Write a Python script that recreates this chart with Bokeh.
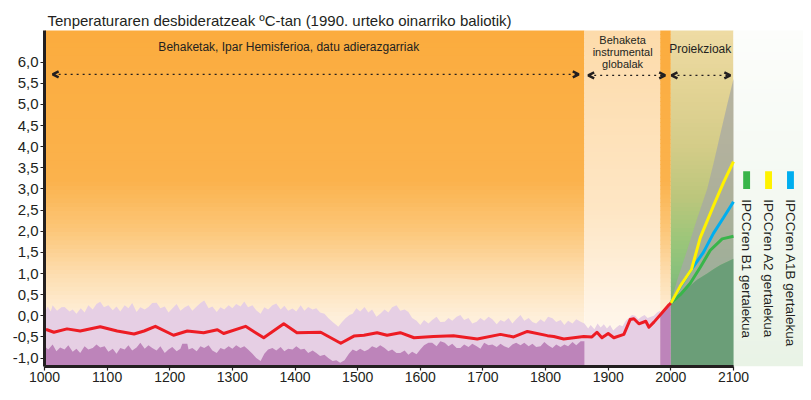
import numpy as np
from bokeh.plotting import figure
from bokeh.models import Range1d, FixedTicker, Arrow, OpenHead
from bokeh.core.properties import value
from bokeh.embed import file_html
from bokeh.resources import INLINE

FONT = "Liberation Sans"
INK = "#231F20"

# ---------------- data ----------------
title_text = "Tenperaturaren desbideratzeak ºC-tan (1990. urteko oinarriko baliotik)"

y_ticks = [-1.0, -0.5, 0.0, 0.5, 1.0, 1.5, 2.0, 2.5, 3.0, 3.5, 4.0, 4.5, 5.0, 5.5, 6.0]
y_tick_labels = ["-1,0", "-0,5", "0,0", "0,5", "1,0", "1,5", "2,0", "2,5", "3,0", "3,5",
                 "4,0", "4,5", "5,0", "5,5", "6,0"]
x_ticks = [1000, 1100, 1200, 1300, 1400, 1500, 1600, 1700, 1800, 1900, 2000, 2100]

# period boundaries
recon_start, recon_end = 1000, 1862
instr_end = 1983
proj_start, proj_end = 2000, 2100

# reconstructed + instrumental mean temperature (red line)
red_years = [1000, 1004, 1015, 1036, 1057, 1089, 1116, 1143, 1159, 1177, 1206, 1228, 1254, 1276,
             1286, 1321, 1350, 1382, 1403, 1441, 1473, 1494, 1510, 1531, 1547, 1568, 1590, 1621,
             1653, 1691, 1728, 1749, 1771, 1803, 1813, 1829, 1861,
             1874, 1882, 1890, 1900, 1909, 1925, 1935, 1941, 1949, 1960, 1965, 1973, 1986, 1997, 2000]
red_vals = [-0.33, -0.33, -0.39, -0.31, -0.36, -0.26, -0.36, -0.43, -0.36, -0.25, -0.46, -0.36, -0.40, -0.33,
            -0.42, -0.25, -0.52, -0.19, -0.40, -0.39, -0.65, -0.48, -0.46, -0.40, -0.46, -0.40, -0.52, -0.49,
            -0.47, -0.55, -0.44, -0.50, -0.37, -0.47, -0.49, -0.55, -0.49,
            -0.50, -0.39, -0.52, -0.42, -0.52, -0.44, -0.09, -0.07, -0.19, -0.13, -0.27, -0.15, 0.07, 0.26, 0.30]

# uncertainty envelope upper limit (light purple top)
upper_years = [1000, 1005, 1010, 1013, 1020, 1027, 1032, 1040, 1045, 1051, 1058, 1064, 1070, 1077, 1083,
               1089, 1095, 1102, 1109, 1115, 1121, 1128, 1134, 1140, 1147, 1153, 1160, 1166, 1172, 1179,
               1185, 1192, 1198, 1204, 1211, 1217, 1224, 1230, 1236, 1243, 1249, 1255, 1262, 1268, 1275,
               1281, 1287, 1294, 1300, 1306, 1313, 1319, 1325, 1332, 1338, 1345, 1351, 1357, 1364, 1370,
               1377, 1383, 1389, 1396, 1402, 1409, 1415, 1421, 1428, 1434, 1440, 1447, 1453, 1460, 1466,
               1469, 1475, 1481, 1487, 1492, 1498, 1504, 1511, 1517, 1523, 1530, 1536, 1543, 1549, 1555,
               1562, 1568, 1575, 1581, 1587, 1594, 1600, 1606, 1613, 1619, 1626, 1632, 1639, 1645, 1651,
               1658, 1664, 1670, 1677, 1683, 1690, 1696, 1702, 1709, 1715, 1722, 1728, 1734, 1741, 1747,
               1753, 1760, 1766, 1773, 1779, 1785, 1792, 1798, 1804, 1811, 1817, 1824, 1830, 1836, 1843,
               1849, 1856, 1862,
               1868, 1872, 1878, 1883, 1888, 1893, 1898, 1903, 1908, 1913, 1918, 1923, 1928, 1933, 1938,
               1943, 1948, 1953, 1958, 1963, 1968, 1973, 1978, 1983]
upper_vals = [0.05, 0.22, 0.10, 0.25, 0.12, 0.20, 0.21, 0.10, 0.15, 0.05, 0.18, 0.08, 0.25, 0.15, 0.28,
              0.33, 0.20, 0.25, 0.13, 0.22, 0.10, 0.25, 0.18, 0.30, 0.09, 0.20, 0.15, 0.21, 0.30, 0.31,
              0.18, 0.22, 0.08, 0.17, 0.28, 0.12, 0.20, 0.25, 0.12, 0.22, 0.30, 0.36, 0.18, 0.22, 0.09,
              0.20, 0.15, 0.25, 0.18, 0.28, 0.22, 0.34, 0.20, 0.25, 0.13, 0.05, 0.20, 0.15, 0.25, 0.29,
              0.15, 0.24, 0.12, 0.17, 0.10, 0.25, 0.12, 0.21, 0.15, 0.18, 0.08, 0.05, -0.05, -0.15, -0.22,
              -0.26, -0.15, -0.05, 0.02, 0.05, 0.18, 0.10, 0.21, 0.08, 0.15, -0.02, 0.05, 0.15, 0.08, 0.20,
              0.25, 0.12, 0.15, 0.09, -0.05, -0.12, -0.22, -0.10, -0.18, -0.10, -0.02, -0.15, -0.14, -0.05, -0.12,
              -0.02, 0.02, -0.10, -0.05, -0.18, -0.14, -0.05, -0.12, -0.02, -0.08, -0.20, -0.10, -0.14, -0.05, -0.18,
              -0.08, 0.02, -0.12, -0.05, -0.15, -0.18, -0.08, -0.15, -0.02, -0.06, -0.15, -0.10, -0.22, -0.12, -0.18,
              -0.08, -0.14, -0.18,
              -0.30, -0.22, -0.32, -0.18, -0.28, -0.20, -0.30, -0.22, -0.35, -0.28, -0.22, -0.25, -0.12, -0.05, 0.02,
              0.00, -0.08, -0.02, 0.02, -0.05, -0.02, 0.00, 0.08, 0.12]

# uncertainty envelope lower limit (dark purple top), reconstruction period
lower_years = [1000, 1006, 1013, 1019, 1025, 1032, 1038, 1045, 1051, 1057, 1064, 1070, 1077, 1083, 1089,
               1096, 1102, 1109, 1115, 1121, 1128, 1134, 1140, 1147, 1153, 1160, 1166, 1172, 1179, 1185,
               1192, 1198, 1204, 1211, 1217, 1220, 1228, 1230, 1236, 1243, 1249, 1255, 1262, 1268, 1275,
               1281, 1287, 1294, 1300, 1306, 1313, 1319, 1325, 1332, 1338, 1345, 1351, 1357, 1364, 1370,
               1377, 1383, 1389, 1396, 1402, 1409, 1415, 1421, 1428, 1434, 1440, 1447, 1453, 1460, 1466,
               1472, 1479, 1486, 1492, 1498, 1504, 1511, 1517, 1523, 1530, 1536, 1543, 1549, 1555, 1562,
               1568, 1575, 1581, 1587, 1594, 1600, 1606, 1613, 1619, 1626, 1632, 1639, 1645, 1651, 1658,
               1664, 1670, 1677, 1683, 1690, 1696, 1702, 1709, 1715, 1722, 1728, 1734, 1741, 1747, 1753,
               1760, 1766, 1773, 1779, 1785, 1792, 1798, 1804, 1811, 1817, 1824, 1830, 1836, 1843, 1849,
               1856, 1862]
lower_vals = [-0.72, -0.80, -0.68, -0.84, -0.75, -0.80, -0.70, -0.85, -0.78, -0.88, -0.72, -0.80, -0.76, -0.68, -0.75,
              -0.72, -0.85, -0.78, -0.90, -0.76, -0.80, -0.70, -0.82, -0.75, -0.64, -0.78, -0.70, -0.76, -0.82, -0.72,
              -0.88, -0.80, -0.74, -0.84, -0.78, -0.66, -0.66, -0.80, -0.76, -0.84, -0.72, -0.76, -0.70, -0.82, -0.88,
              -0.76, -0.80, -0.72, -0.78, -0.70, -0.76, -0.72, -0.80, -0.90, -1.00, -1.07, -0.90, -0.80, -0.76, -0.82,
              -0.74, -0.84, -0.78, -0.80, -0.72, -0.80, -0.78, -0.88, -0.82, -0.88, -0.95, -0.92, -1.00, -1.07, -1.05,
              -1.11, -1.05, -0.90, -0.80, -0.84, -0.78, -0.84, -0.80, -0.72, -0.76, -0.70, -0.76, -0.84, -0.80, -0.88,
              -0.88, -0.82, -0.92, -0.85, -0.91, -0.80, -0.70, -0.64, -0.64, -0.72, -0.60, -0.64, -0.72, -0.66, -0.76,
              -0.76, -0.68, -0.74, -0.66, -0.72, -0.78, -0.64, -0.70, -0.68, -0.74, -0.66, -0.72, -0.76, -0.68, -0.64,
              -0.70, -0.64, -0.72, -0.66, -0.74, -0.72, -0.62, -0.70, -0.76, -0.68, -0.74, -0.68, -0.72, -0.62, -0.70,
              -0.60, -0.60]

# recent dark strip (1983-2000)
strip_years = [1983, 1990, 1997, 2000]
strip_vals = [0.03, 0.16, 0.26, 0.30]

# projections
fan_years = [2000, 2010, 2026, 2042, 2058, 2068, 2079, 2090, 2100]
fan_upper = [0.30, 0.84, 1.55, 2.30, 3.00, 3.60, 4.30, 5.00, 5.60]
fan_lower = [0.30, 0.45, 0.65, 0.85, 1.00, 1.10, 1.20, 1.28, 1.35]

a2_years = [2000, 2015, 2033, 2047, 2068, 2084, 2100]
a2_vals = [0.30, 0.70, 1.10, 1.85, 2.60, 3.15, 3.65]
a1b_years = [2000, 2015, 2033, 2052, 2068, 2084, 2100]
a1b_vals = [0.30, 0.68, 1.10, 1.50, 1.95, 2.32, 2.70]
b1_years = [2000, 2015, 2031, 2047, 2063, 2082, 2100]
b1_vals = [0.30, 0.50, 0.77, 1.15, 1.55, 1.82, 1.88]

legend_names = ["IPCCren B1 gertalekua", "IPCCren A2 gertalekua", "IPCCren A1B gertalekua"]
legend_colors = ["#39B54A", "#FFF200", "#00AEEF"]

# ---------------- figure ----------------
Y0, Y1 = -1.2, 6.75
X0, X1 = 1000, 2211.8

p = figure(width=803, height=384, x_range=Range1d(X0, X1), y_range=Range1d(Y0, Y1),
           output_backend="svg", toolbar_location=None,
           min_border_left=44, min_border_right=0, min_border_top=30, min_border_bottom=0)
p.grid.visible = False
p.outline_line_color = None
p.background_fill_color = "white"
p.border_fill_color = "white"

p.title.text = title_text
p.title.text_font = FONT
p.title.text_font_size = "15px"
p.title.text_font_style = "normal"
p.title.text_color = INK
p.title.standoff = 3
p.title.offset = 3


def hex2rgb(h):
    h = h.lstrip("#")
    return np.array([int(h[i:i + 2], 16) for i in (0, 2, 4)], dtype=float)


def strips(x0, x1, stops, n=80):
    ys = np.linspace(Y0, Y1, n + 1)
    mids = (ys[:-1] + ys[1:]) / 2
    sv = [s[0] for s in stops]
    cols = [hex2rgb(s[1]) for s in stops]
    out = []
    for m in mids:
        c = np.array([np.interp(m, sv, [cc[k] for cc in cols]) for k in range(3)])
        out.append("#%02x%02x%02x" % tuple(int(round(v)) for v in c))
    p.quad(left=x0, right=x1, bottom=ys[:-1], top=ys[1:] + 0.015, fill_color=out, line_color=None)


orange_stops = [(-1.47, "#FEF4E6"), (0.0, "#FEEFD9"), (1.0, "#FDDDAF"), (2.0, "#FCC77A"),
                (3.2, "#FBB24C"), (6.75, "#FBAC3E")]
peach_stops = [(-1.47, "#FFF9F2"), (0.0, "#FFF5E8"), (2.5, "#FEE6C4"), (6.75, "#FDDBAB")]
proj_stops = [(-1.47, "#6A9E78"), (0.2, "#76AC79"), (1.0, "#88C07B"), (1.8, "#9CC67A"),
              (2.8, "#BCC67C"), (4.0, "#D4CC88"), (5.5, "#E4D496"), (6.75, "#EEDBA4")]
side_stops = [(-1.47, "#E8F2E5"), (2.0, "#F2F8F0"), (6.75, "#FCFDFB")]

strips(recon_start, recon_end, orange_stops)
strips(recon_end, instr_end, peach_stops)
strips(instr_end, proj_start, orange_stops)
strips(proj_start, proj_end, proj_stops)
strips(proj_end, X1, side_stops)

# purple uncertainty areas
p.varea(x=upper_years, y1=Y0, y2=upper_vals, fill_color="#E6CFE4")
p.varea(x=lower_years, y1=Y0, y2=lower_vals, fill_color="#BD84BA")
p.varea(x=strip_years, y1=Y0, y2=strip_vals, fill_color="#BD84BA")

# projection fan
p.varea(x=fan_years, y1=fan_lower, y2=fan_upper, fill_color="#A7A8A4", fill_alpha=0.75)
p.varea(x=fan_years, y1=Y0, y2=fan_lower, fill_color="#6B9E78")

# scenario lines
p.line(b1_years, b1_vals, line_color=legend_colors[0], line_width=3)
p.line(a1b_years, a1b_vals, line_color=legend_colors[2], line_width=3)
p.line(a2_years, a2_vals, line_color=legend_colors[1], line_width=3)

# temperature line
p.line(red_years, red_vals, line_color="#ED1C24", line_width=3, line_join="round")

# period labels
p.text(x=[1390, 2047], y=[6.35, 6.32],
       text=["Behaketak, Ipar Hemisferioa, datu adierazgarriak", "Proiekzioak"],
       text_font=value(FONT), text_font_size="12px", text_color=INK,
       text_align="center", text_baseline="middle")
p.text(x=[1923], y=[6.25], text=["Behaketa\ninstrumental\nglobalak"],
       text_font=value(FONT), text_font_size="11px", text_color=INK,
       text_align="center", text_baseline="middle", text_line_height=1.0)

# period arrows
arrow_spans = [(1013, 1853, 5.71), (1868, 1991, 5.69), (2001, 2095, 5.69)]
for xs, xe, yy in arrow_spans:
    p.add_layout(Arrow(start=OpenHead(size=6, line_width=2.5, line_color=INK),
                       end=OpenHead(size=6, line_width=2.5, line_color=INK),
                       x_start=xs, y_start=yy, x_end=xe, y_end=yy,
                       line_color=INK, line_width=1.3, line_dash="dotted"))

# legend (vertical)
leg_x = [2121.0, 2156.0, 2191.0]
p.quad(left=[x - 5.5 for x in leg_x], right=[x + 5.5 for x in leg_x],
       bottom=3.0, top=3.42, fill_color=legend_colors, line_color=None)
p.text(x=leg_x, y=2.76, text=legend_names, angle=-np.pi / 2,
       text_font=value(FONT), text_font_size="13.5px", text_color=INK,
       text_align="left", text_baseline="middle")

# axes
p.xaxis.ticker = FixedTicker(ticks=x_ticks)
p.xaxis.bounds = (1000, 2100)
p.yaxis.ticker = FixedTicker(ticks=y_ticks)
p.yaxis.major_label_overrides = {t: l for t, l in zip(y_ticks, y_tick_labels)}
p.yaxis.bounds = (Y0, Y1)
for ax in (p.xaxis[0], p.yaxis[0]):
    ax.axis_line_width = 3
    ax.axis_line_color = INK
    ax.major_tick_line_color = INK
    ax.major_tick_line_width = 1.2
    ax.major_tick_in = 0
    ax.major_tick_out = 4
    ax.minor_tick_line_color = None
    ax.major_label_text_font = FONT
    ax.major_label_text_color = INK
p.xaxis.major_label_text_font_size = "14px"
p.xaxis.major_label_standoff = 1
p.yaxis.major_label_text_font_size = "15px"
p.yaxis.major_label_standoff = 2

open("out.html", "w").write(file_html(p, INLINE))
